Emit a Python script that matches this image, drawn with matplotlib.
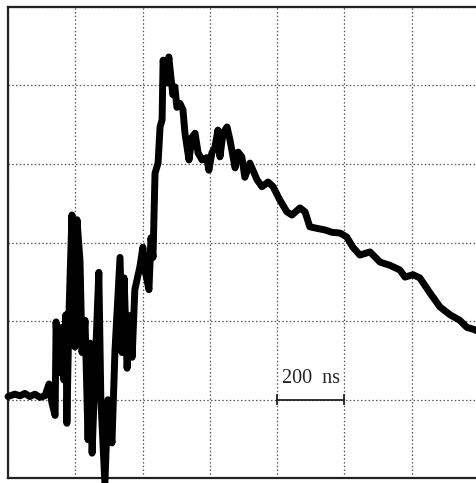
import matplotlib
matplotlib.use("Agg")
import matplotlib.pyplot as plt

# time in ns (200 ns / division), amplitude in divisions
time_ns = [0, 20, 36, 50, 65, 80, 95, 110, 122, 131, 140, 143, 149, 160, 166, 172, 175, 181,
           190, 199, 205, 214, 220, 229, 238, 244, 250, 259, 270, 276, 288, 297, 309, 318,
           333, 339, 345, 354, 363, 369, 377, 392, 401, 407, 419, 425, 431, 437, 446, 452,
           458, 461, 473, 478, 484, 490, 496, 502, 511, 520, 526, 538, 547, 556, 565, 577,
           591, 597, 606, 615, 624, 630, 639, 651, 660, 675, 684, 695, 704, 719, 740, 755,
           773, 788, 808, 829, 844, 868, 883, 897, 918, 942, 963, 987, 1007, 1025, 1046,
           1076, 1106, 1135, 1165, 1180, 1204, 1224, 1254, 1284, 1314, 1343, 1364, 1388, 1400]
signal = [1.04, 1.07, 1.05, 1.08, 1.04, 1.07, 1.03, 1.05, 1.20, 0.95, 0.80, 1.99, 1.34, 1.92,
          1.25, 2.08, 0.70, 2.05, 3.35, 1.67, 3.29, 2.77, 1.60, 2.01, 0.49, 1.72, 0.32, 1.42,
          2.62, 1.00, -0.06, 1.00, 0.45, 1.63, 2.81, 1.60, 2.55, 1.40, 2.07, 1.54, 2.40, 2.69,
          2.94, 2.65, 2.40, 3.06, 2.81, 3.88, 4.01, 4.47, 4.56, 5.32, 5.03, 5.36, 5.11, 4.88,
          4.98, 4.72, 4.77, 4.69, 4.39, 4.05, 4.34, 4.39, 4.14, 4.05, 4.08, 3.92, 4.14, 4.21,
          4.43, 4.09, 4.39, 4.47, 4.30, 3.95, 4.15, 4.09, 3.83, 4.01, 3.80, 3.71, 3.77, 3.71,
          3.54, 3.39, 3.35, 3.44, 3.39, 3.20, 3.18, 3.16, 3.13, 3.12, 3.07, 2.94, 2.84, 2.88,
          2.75, 2.71, 2.65, 2.56, 2.59, 2.55, 2.36, 2.18, 2.08, 2.01, 1.92, 1.89, 1.86]

scale_start, scale_end, scale_level = 800, 1000, 1.0
scale_label = "200  ns"

fig = plt.figure(figsize=(4.77, 4.83), dpi=100)
ax = fig.add_axes([8 / 477, 4.7 / 483, 471 / 477, 471.6 / 483])
ax.set_xlim(0, 1400)
ax.set_ylim(0, 6)
ax.set_xticks(range(0, 1401, 200))
ax.set_yticks(range(0, 7))
ax.tick_params(length=0, labelbottom=False, labelleft=False)
ax.grid(True, linestyle=(0, (1.2, 1.8)), color="#555555", linewidth=0.9)
for s in ["left", "top", "bottom"]:
    ax.spines[s].set_linewidth(1.6)
    ax.spines[s].set_color("#222222")
ax.spines["right"].set_visible(False)

ax.plot(time_ns, signal, color="black", linewidth=5, solid_joinstyle="round",
        solid_capstyle="round", clip_on=False, zorder=3)

ax.plot([scale_start, scale_end], [scale_level, scale_level], color="#222222", linewidth=1.3, zorder=4)
for xv in (scale_start, scale_end):
    ax.plot([xv, xv], [scale_level - 0.06, scale_level + 0.06], color="#222222", linewidth=1.3, zorder=4)
ax.text((scale_start + scale_end) / 2, scale_level + 0.21, scale_label, ha="center", va="baseline",
        family="Liberation Serif", fontsize=14.5, color="#222222")

fig.savefig("out.png", dpi=100)
